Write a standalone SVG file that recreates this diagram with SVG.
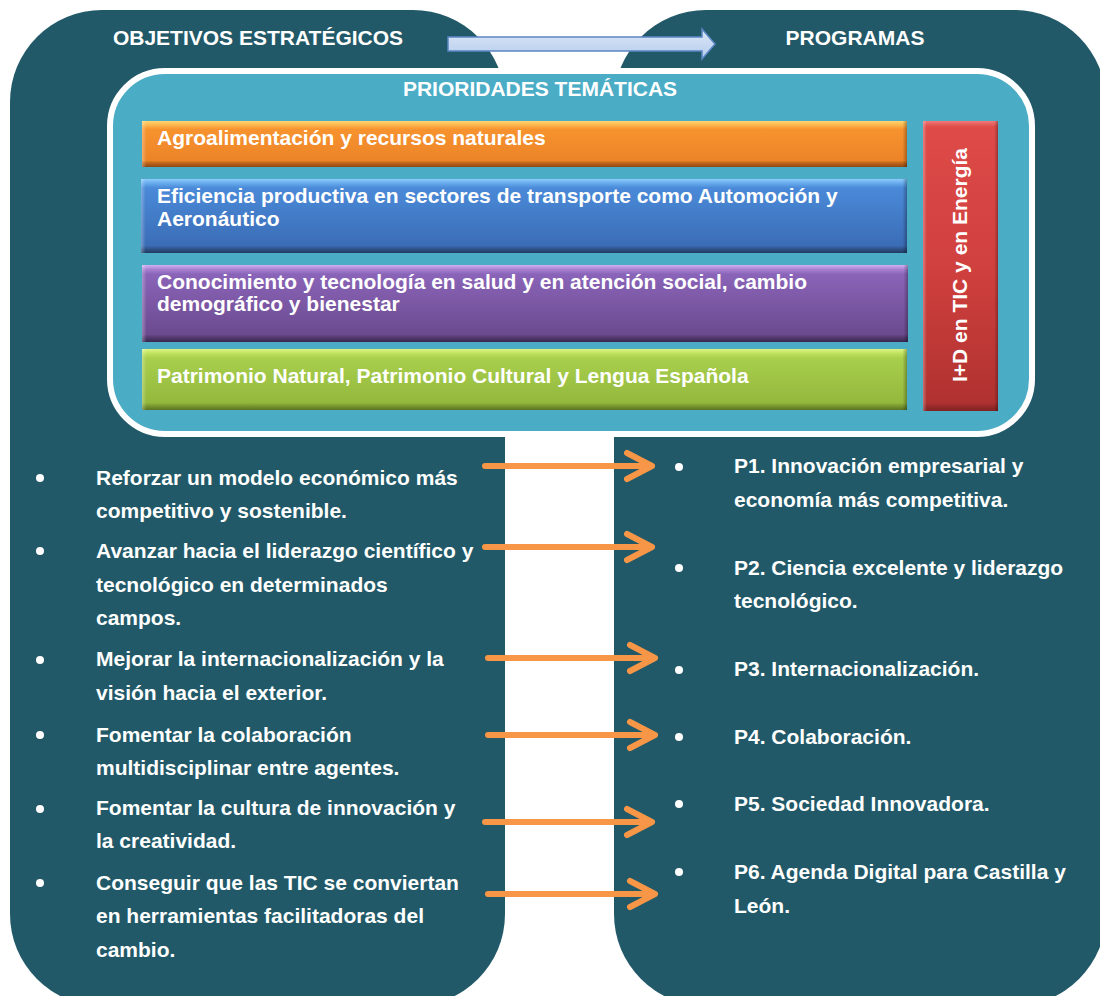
<svg xmlns="http://www.w3.org/2000/svg" width="1100" height="996" viewBox="0 0 1100 996">
<style>
text{font-family:"Liberation Sans",Arial,sans-serif;font-weight:bold;font-size:21px;fill:#ffffff}
.panel{fill:#215968}
.title{text-anchor:middle}
.dot{fill:#ffffff}
.conn{fill:none;stroke:#F79646;stroke-width:6;stroke-linecap:round;stroke-linejoin:round}
.edge{fill:url(#hshade)}
</style>
<defs>
<linearGradient id="gOrange" x1="0" y1="0" x2="0" y2="1">
<stop offset="0" stop-color="#FFD56E"/><stop offset="0.1" stop-color="#FBB24A"/><stop offset="0.18" stop-color="#F7932F"/><stop offset="0.86" stop-color="#EC8427"/><stop offset="0.9" stop-color="#C86A1C"/><stop offset="1" stop-color="#8E4814"/>
</linearGradient>
<linearGradient id="gBlue" x1="0" y1="0" x2="0" y2="1">
<stop offset="0" stop-color="#8CCBFA"/><stop offset="0.06" stop-color="#66A9EC"/><stop offset="0.12" stop-color="#4A8AD8"/><stop offset="0.9" stop-color="#3B6DB6"/><stop offset="0.94" stop-color="#30568F"/><stop offset="1" stop-color="#223A60"/>
</linearGradient>
<linearGradient id="gPurple" x1="0" y1="0" x2="0" y2="1">
<stop offset="0" stop-color="#D2B0F2"/><stop offset="0.06" stop-color="#A57FD0"/><stop offset="0.12" stop-color="#8A64B8"/><stop offset="0.9" stop-color="#6C4A8F"/><stop offset="0.94" stop-color="#543A70"/><stop offset="1" stop-color="#3A2850"/>
</linearGradient>
<linearGradient id="gGreen" x1="0" y1="0" x2="0" y2="1">
<stop offset="0" stop-color="#DDF385"/><stop offset="0.08" stop-color="#BCE05C"/><stop offset="0.15" stop-color="#A9CF4D"/><stop offset="0.88" stop-color="#93B83D"/><stop offset="0.93" stop-color="#7A9A30"/><stop offset="1" stop-color="#5A7222"/>
</linearGradient>
<linearGradient id="gRed" x1="0" y1="0" x2="0" y2="1">
<stop offset="0" stop-color="#F07A78"/><stop offset="0.02" stop-color="#DE4B49"/><stop offset="0.5" stop-color="#D0403E"/><stop offset="0.97" stop-color="#B03230"/><stop offset="1" stop-color="#7E2222"/>
</linearGradient>
<linearGradient id="hshade" x1="0" y1="0" x2="1" y2="0">
<stop offset="0" stop-color="#ffffff" stop-opacity="0.3"/><stop offset="0.006" stop-color="#ffffff" stop-opacity="0"/><stop offset="0.994" stop-color="#000000" stop-opacity="0"/><stop offset="1" stop-color="#000000" stop-opacity="0.3"/>
</linearGradient>
<linearGradient id="hshadeR" x1="0" y1="0" x2="1" y2="0">
<stop offset="0" stop-color="#ffffff" stop-opacity="0.3"/><stop offset="0.05" stop-color="#ffffff" stop-opacity="0"/><stop offset="0.95" stop-color="#000000" stop-opacity="0"/><stop offset="1" stop-color="#000000" stop-opacity="0.3"/>
</linearGradient>
<linearGradient id="gArrow" x1="0" y1="0" x2="0" y2="1">
<stop offset="0" stop-color="#DCE7F6"/><stop offset="1" stop-color="#B4CCEE"/>
</linearGradient>
</defs>
<rect width="1100" height="996" fill="#ffffff"/>

<g id="objetivos">
<rect class="panel" x="10" y="10" width="495" height="996" rx="92"/>
<text class="title" x="258" y="45">OBJETIVOS ESTRATÉGICOS</text>
<circle class="dot" cx="40" cy="478" r="4"/>
<text x="96" y="485">Reforzar un modelo económico más</text>
<text x="96" y="518">competitivo y sostenible.</text>
<circle class="dot" cx="40" cy="551" r="4"/>
<text x="96" y="558">Avanzar hacia el liderazgo científico y</text>
<text x="96" y="592">tecnológico en determinados</text>
<text x="96" y="625">campos.</text>
<circle class="dot" cx="40" cy="660" r="4"/>
<text x="96" y="666">Mejorar la internacionalización y la</text>
<text x="96" y="700">visión hacia el exterior.</text>
<circle class="dot" cx="40" cy="735" r="4"/>
<text x="96" y="742">Fomentar la colaboración</text>
<text x="96" y="775">multidisciplinar entre agentes.</text>
<circle class="dot" cx="40" cy="809" r="4"/>
<text x="96" y="815">Fomentar la cultura de innovación y</text>
<text x="96" y="848">la creatividad.</text>
<circle class="dot" cx="40" cy="883" r="4"/>
<text x="96" y="890">Conseguir que las TIC se conviertan</text>
<text x="96" y="923">en herramientas facilitadoras del</text>
<text x="96" y="957">cambio.</text>
</g>

<g id="programas">
<rect class="panel" x="614" y="10" width="492" height="996" rx="92"/>
<text class="title" x="855" y="45">PROGRAMAS</text>
<circle class="dot" cx="679" cy="467" r="4"/>
<text x="734" y="473">P1. Innovación empresarial y</text>
<text x="734" y="507">economía más competitiva.</text>
<circle class="dot" cx="679" cy="568" r="4"/>
<text x="734" y="575">P2. Ciencia excelente y liderazgo</text>
<text x="734" y="608">tecnológico.</text>
<circle class="dot" cx="679" cy="670" r="4"/>
<text x="734" y="676">P3. Internacionalización.</text>
<circle class="dot" cx="679" cy="737" r="4"/>
<text x="734" y="744">P4. Colaboración.</text>
<circle class="dot" cx="679" cy="804" r="4"/>
<text x="734" y="811">P5. Sociedad Innovadora.</text>
<circle class="dot" cx="679" cy="872" r="4"/>
<text x="734" y="879">P6. Agenda Digital para Castilla y</text>
<text x="734" y="913">León.</text>
</g>

<g id="prioridades">
<rect x="110" y="71" width="922" height="363" rx="55" fill="#4BACC6" stroke="#ffffff" stroke-width="6"/>
<text class="title" x="540" y="96">PRIORIDADES TEMÁTICAS</text>
</g>

<g id="agroalimentacion">
<rect x="142" y="121" width="765" height="46" fill="url(#gOrange)"/>
<rect class="edge" x="142" y="121" width="765" height="46"/>
<text x="157" y="145">Agroalimentación y recursos naturales</text>
</g>

<g id="eficiencia">
<rect x="141" y="179" width="766" height="74" fill="url(#gBlue)"/>
<rect class="edge" x="141" y="179" width="766" height="74"/>
<text x="157" y="203">Eficiencia productiva en sectores de transporte como Automoción y</text>
<text x="157" y="226">Aeronáutico</text>
</g>

<g id="conocimiento">
<rect x="142" y="265" width="766" height="77" fill="url(#gPurple)"/>
<rect class="edge" x="142" y="265" width="766" height="77"/>
<text x="157" y="289">Conocimiento y tecnología en salud y en atención social, cambio</text>
<text x="157" y="311">demográfico y bienestar</text>
</g>

<g id="patrimonio">
<rect x="142" y="349" width="765" height="61" fill="url(#gGreen)"/>
<rect class="edge" x="142" y="349" width="765" height="61"/>
<text x="157" y="383">Patrimonio Natural, Patrimonio Cultural y Lengua Española</text>
</g>

<g id="idi-tic-energia">
<rect x="923" y="121" width="75" height="290" fill="url(#gRed)"/>
<rect x="923" y="121" width="75" height="290" fill="url(#hshadeR)"/>
<text class="title" transform="translate(967,265) rotate(-90)">I+D en TIC y en Energía</text>
</g>

<g id="connectors">
<polygon points="448,37 702,37 702,29 715,44 702,59 702,51 448,51" fill="url(#gArrow)" stroke="#5B87C5" stroke-width="1.5"/>
<path class="conn" d="M485,466 H651 M627,453 L652,466 L627,479"/>
<path class="conn" d="M485,547 H651 M627,534 L652,547 L627,560"/>
<path class="conn" d="M488,658 H654 M630,645 L655,658 L630,671"/>
<path class="conn" d="M488,735 H654 M630,722 L655,735 L630,748"/>
<path class="conn" d="M485,822 H651 M627,809 L652,822 L627,835"/>
<path class="conn" d="M488,894 H654 M630,881 L655,894 L630,907"/>
</g>
</svg>
